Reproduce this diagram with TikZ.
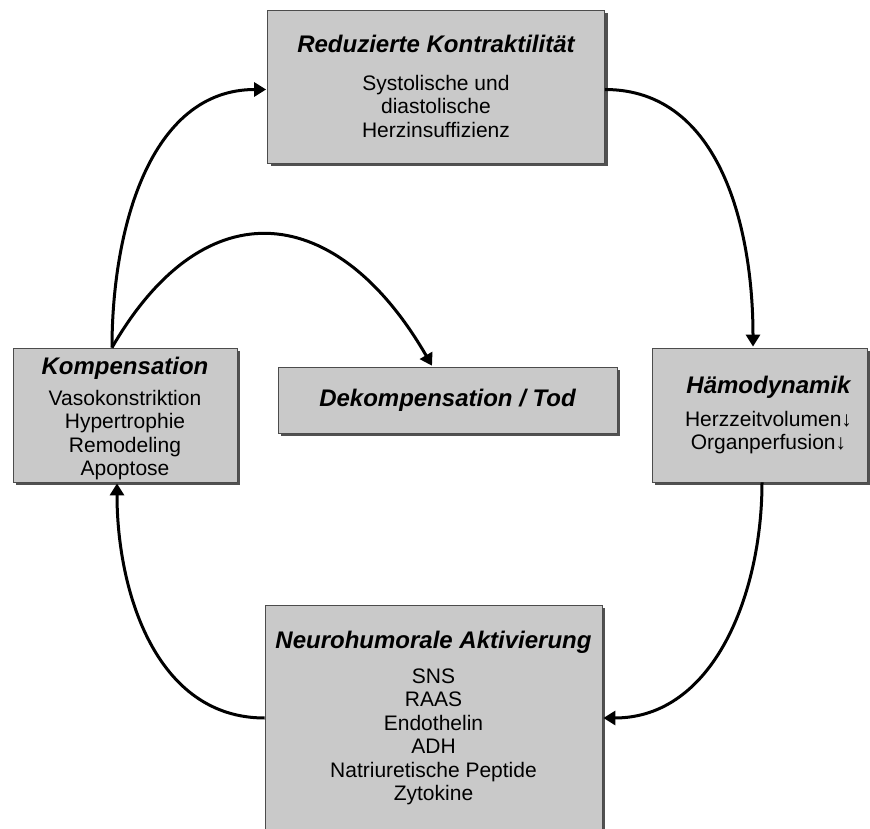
\documentclass[tikz,border=0pt]{standalone}
\usepackage{fontspec}
\setmainfont{Liberation Sans}
\usepackage{xcolor}
\usepackage{tikz}
\usetikzlibrary{arrows.meta,shadows}

\definecolor{boxgray}{RGB}{201,201,201}
\newcommand{\boxtitle}[1]{{\fontsize{24}{26}\selectfont\bfseries\itshape #1}}

\begin{document}
\begin{tikzpicture}[x=1pt,y=1pt,>={Triangle[width=14pt,length=12pt]},
  box/.style={rectangle,draw=black!70,line width=0.8pt,fill=boxgray,align=center,inner sep=0pt,
    font=\fontsize{21}{23.5}\selectfont,
    drop shadow={shadow xshift=3pt,shadow yshift=-3pt,fill=black!80,opacity=.85}},
  flow/.style={->,line width=3pt,shorten >=1pt}]

  \useasboundingbox (0,0) rectangle (870,828);

  \node[box,minimum width=337pt,minimum height=153pt] (kontr) at (436,741.5)
    {\boxtitle{Reduzierte Kontraktilität}\\[14pt]Systolische und\\diastolische\\Herzinsuffizienz};
  \node[box,minimum width=215pt,minimum height=134pt] (haemo) at (759.5,413)
    {\hspace*{18pt}\boxtitle{Hämodynamik}\\[9pt]\hspace*{18pt}Herzzeitvolumen↓\\\hspace*{18pt}Organperfusion↓};
  \node[box,minimum width=224pt,minimum height=134pt] (komp) at (125,413)
    {\rule{0pt}{25pt}\boxtitle{Kompensation}\\[7pt]Vasokonstriktion\\Hypertrophie\\Remodeling\\Apoptose};
  \node[box,minimum width=339pt,minimum height=66pt] (dekomp) at (447.5,428)
    {\boxtitle{Dekompensation / Tod}};
  \node[box,minimum width=337pt,minimum height=226pt] (neuro) at (433.5,110)
    {\boxtitle{Neurohumorale Aktivierung}\\[11pt]SNS\\RAAS\\Endothelin\\ADH\\Natriuretische Peptide\\Zytokine};

  \path[flow]
    ([xshift=-13pt]komp.north) edge [out=90,in=180] ([yshift=-3pt]kontr.west)
    ([xshift=-13pt]komp.north) edge [out=60,in=120,looseness=1.5] ([xshift=-15pt]dekomp.north)
    ([yshift=-3pt]kontr.east) edge [out=0,in=90] ([xshift=-6.5pt]haemo.north)
    ([xshift=2.5pt]haemo.south) edge [out=-90,in=0] (neuro.east)
    (neuro.west) edge [out=180,in=-90] ([xshift=-8pt]komp.south);

\end{tikzpicture}
\end{document}
